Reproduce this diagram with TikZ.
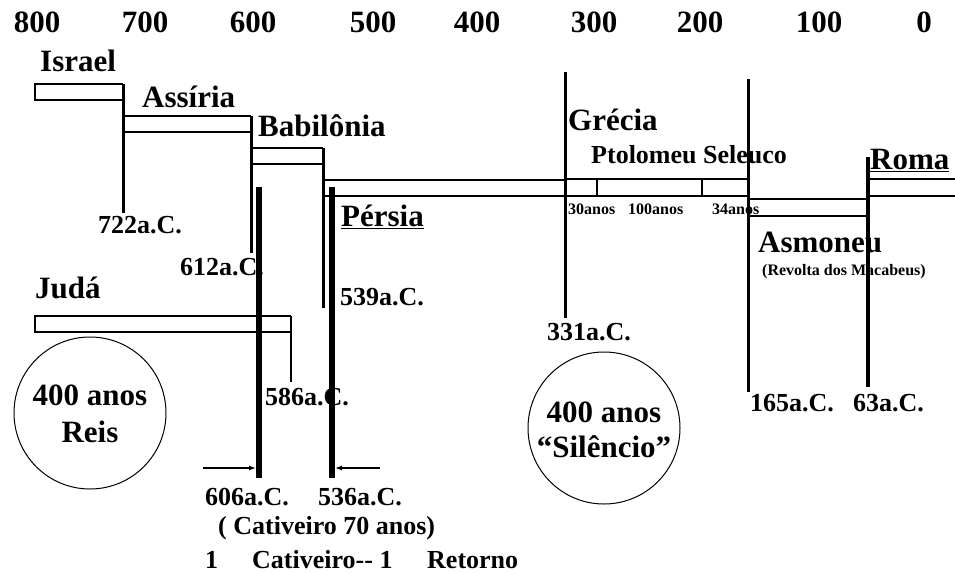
\documentclass[tikz,border=0pt]{standalone}
\usepackage{fontspec}
\setmainfont{Liberation Serif}
\usepackage{tikz}
\usetikzlibrary{arrows.meta,calc,positioning}

\tikzset{
  big/.style={font=\fontsize{31}{31}\selectfont\bfseries, inner sep=0pt, anchor=west},
  date/.style={font=\fontsize{26}{26}\selectfont\bfseries, inner sep=0pt, anchor=west},
  tiny/.style={font=\fontsize{16}{16}\selectfont\bfseries, inner sep=0pt, anchor=west},
  bar/.style={line width=1.6pt},
  era/.style={line width=3pt},
  exile/.style={line width=5.5pt},
  ring/.style={line width=1pt}
}

\begin{document}
\begin{tikzpicture}[x=1pt,y=-1pt]
            \useasboundingbox (0,0) rectangle (955,573);
            % years on top
            \foreach \x/\yr in {37/800,145/700,253/600,373/500,477/400,594/300,700/200,819/100,924/0}
              \node[big, anchor=center] (yr\yr) at (\x,22) {\yr};
            % Israel and Assiria
            \coordinate (isr) at (123,84);
            \draw[bar] (isr) -- (35,84) -- (35,100) -- (123,100);
            \draw[era] (isr) -- (123,213);
            \draw[bar] (123,116) -- (251,116);
            \draw[bar] (123,132) -- (251,132);
            \draw[era] (251,116) -- (251,253);
            % Babilonia and Persia
            \draw[bar] (251,148) -- (323,148);
            \draw[bar] (251,164) -- (323,164);
            \draw[era] (323,148) -- (323,308);
            \draw[bar] (323,180) -- (565,180);
            \draw[bar] (323,196) -- (565,196);
            % Grecia
            \draw[bar] (565,179) -- (748,179);
            \draw[bar] (565,196) -- (748,196);
            \draw[bar] (597,179) -- (597,196);
            \draw[bar] (702,179) -- (702,196);
            \draw[era] (565,72) -- (565,318);
            \draw[era] (748,79) -- (748,392);
            % Asmoneu and Roma
            \draw[bar] (748,199) -- (868,199);
            \draw[bar] (748,216) -- (868,216);
            \draw[bar] (868,179) -- (955,179);
            \draw[bar] (868,196) -- (955,196);
            \draw[era, line width=3.5pt] (868,157) -- (868,387);
            % Juda
            \draw[bar] (291,316) -- (35,316) -- (35,332) -- (291,332);
            \draw[line width=2.4pt] (291,316) -- (291,382);
            % exile
            \coordinate (ex1) at (259,187);
            \coordinate (ex2) at (332,187);
            \draw[exile] (ex1) -- (259,478);
            \draw[exile] (ex2) -- (332,478);
            \coordinate (a1) at (203,468);
            \coordinate (a2) at (380,468);
            \draw[line width=1.3pt, -{Latex[length=7pt,width=5pt]}] (a1) -- (256,468);
            \draw[line width=1.3pt, -{Latex[length=7pt,width=5pt]}] (a2) -- (335,468);
            % circles
            \draw[ring] (90,413) circle (76);
            \draw[ring] (604,428) circle (76);

            \node[big] (israel) at (40,61) {Israel};
            \node[big] (assiria) at (142,97) {Assíria};
            \node[big] (babil) at (258,126) {Babilônia};
            \node[big] (persia) at (341,217) {\underline{Pérsia}};
            \node[big] (grecia) at (568,120) {Grécia};
            \node[date] (ptol) at (591,155) {Ptolomeu Seleuco};
            \node[big] (roma) at (870,160) {\underline{Roma}};
            \node[big] (asmon) at (758,242) {Asmoneu};
            \node[tiny] (revolta) at (762,272) {(Revolta dos Macabeus)};
            \node[big] (juda) at (35,288) {Judá};
            \node[tiny] (t30) at (568,209) {30anos};
            \node[tiny] (t100) at (628,209) {100anos};
            \node[tiny] (t34) at (712,209) {34anos};

            \node[date] (d722) at (98,225) {722a.C.};
            \node[date] (d612) at (180,267) {612a.C.};
            \node[date] (d539) at (340,297) {539a.C.};
            \node[date] (d331) at (547,332) {331a.C.};
            \node[date] (d586) at (265,397) {586a.C.};
            \node[date] (d165) at (750,403) {165a.C.};
            \node[date] (d63) at (853,403) {63a.C.};
            \node[date] (d606) at (205,497) {606a.C.};
            \node[date] (d536) at (318,497) {536a.C.};
            \node[date] (cat70) at (218,528) {( Cativeiro 70 anos)};
            \node[date] (c1) at (205,560) {1};
            \node[date] (c2) at (252,560) {Cativeiro-{}- 1};
            \node[date] (c3) at (427,560) {Retorno};

            \node[big, anchor=center, align=center] (reis) at (90,414) {400 anos\\[6pt]Reis};
            \node[big, anchor=center, align=center] (silencio) at (604,430) {400 anos\\[4pt]“Silêncio”};
          \end{tikzpicture}
\end{document}
